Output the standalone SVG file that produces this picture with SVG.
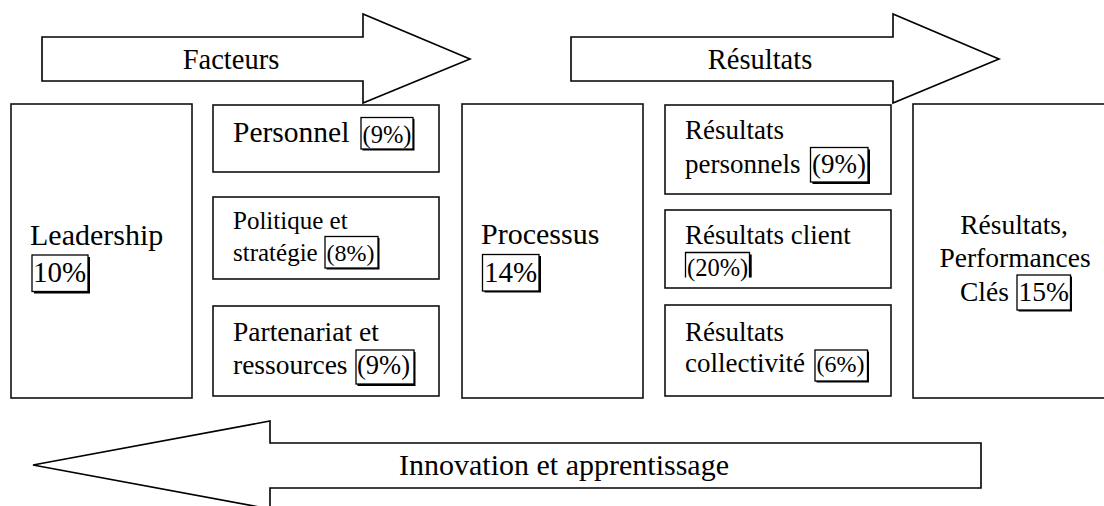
<svg xmlns="http://www.w3.org/2000/svg" width="1104" height="506" viewBox="0 0 1104 506">
<style>
  .box { fill: #fff; stroke: #111; stroke-width: 1.6; }
  .arrow { fill: #fff; stroke: #000; stroke-width: 1.6; stroke-linejoin: miter; }
  text { font-family: 'Liberation Serif', Tinos, 'Times New Roman', Times, 'DejaVu Serif', serif; fill: #000; }
  .pct { fill: #fff; stroke: #000; stroke-width: 1.3; }
  .sh { fill: #000; }
</style>
<rect width="1104" height="506" fill="#fff"/>

<g id="arrows">
  <g id="arrow-facteurs">
    <polygon class="arrow" points="42,37 363,37 363,14 470,59 363,103 363,81 42,81"/>
    <text x="231" y="69" font-size="28.5" text-anchor="middle">Facteurs</text>
  </g>
  <g id="arrow-resultats">
    <polygon class="arrow" points="571,37 893,37 893,14 999,59 893,103 893,81 571,81"/>
    <text x="760" y="69" font-size="28.5" text-anchor="middle">Résultats</text>
  </g>
  <g id="arrow-innovation">
    <polygon class="arrow" points="981,443 270,443 270,421 33,465 270,509 270,488 981,488"/>
    <text x="399" y="475" font-size="30" textLength="330" lengthAdjust="spacingAndGlyphs">Innovation et apprentissage</text>
  </g>
</g>

<g id="connectors"></g>

<g id="leadership">
  <rect class="box" x="11" y="104" width="181" height="294"/>
  <text x="30" y="245" font-size="30">Leadership</text>
  <rect class="sh" x="34" y="257" width="56" height="36.5"/>
  <rect class="pct" x="32" y="255" width="56" height="36.5"/>
  <text x="33" y="282" font-size="29">10%</text>
</g>

<g id="personnel">
  <rect class="box" x="213" y="105" width="226" height="67"/>
  <text x="233" y="142" font-size="29.5">Personnel</text>
  <rect class="sh" x="362.5" y="119" width="52" height="31.5"/>
  <rect class="pct" x="361" y="117.5" width="52" height="31.5"/>
  <text x="362.5" y="142.5" font-size="24.5">(9%)</text>
</g>

<g id="politique">
  <rect class="box" x="213" y="197" width="226" height="82"/>
  <text x="233" y="229" font-size="25">Politique et</text>
  <text x="233" y="261" font-size="25">stratégie</text>
  <rect class="sh" x="326.5" y="238" width="53" height="31.5"/>
  <rect class="pct" x="325" y="236.5" width="53" height="31.5"/>
  <text x="326.5" y="261" font-size="24">(8%)</text>
</g>

<g id="partenariat">
  <rect class="box" x="213" y="306" width="226" height="90"/>
  <text x="233" y="341" font-size="27.5">Partenariat et</text>
  <text x="233" y="374" font-size="27.5">ressources</text>
  <rect class="sh" x="357.5" y="352" width="58" height="34"/>
  <rect class="pct" x="356" y="350" width="58" height="34"/>
  <text x="357" y="374" font-size="26.5">(9%)</text>
</g>

<g id="processus">
  <rect class="box" x="462" y="104" width="181" height="294"/>
  <text x="481" y="244" font-size="30">Processus</text>
  <rect class="sh" x="484.5" y="256" width="56.5" height="36.5"/>
  <rect class="pct" x="482.5" y="254.5" width="56.5" height="36.5"/>
  <text x="484" y="281.5" font-size="29">14%</text>
</g>

<g id="resultats-personnels">
  <rect class="box" x="665" y="105" width="226" height="89"/>
  <text x="685" y="139" font-size="27">Résultats</text>
  <text x="685" y="173" font-size="27">personnels</text>
  <rect class="sh" x="812.5" y="149.5" width="57.5" height="34.5"/>
  <rect class="pct" x="810.5" y="147.5" width="57.5" height="34.5"/>
  <text x="812" y="173" font-size="27">(9%)</text>
</g>

<g id="resultats-client">
  <rect class="box" x="665" y="210" width="226" height="78"/>
  <text x="685" y="244" font-size="27">Résultats client</text>
  <rect class="sh" x="749.5" y="254.5" width="2.2" height="23"/>
  <path d="M685.5,277.5 V252.5 H749.5 V277.5" fill="none" stroke="#000" stroke-width="1.3"/>
  <text x="687" y="276" font-size="24.5">(20%)</text>
</g>

<g id="resultats-collectivite">
  <rect class="box" x="665" y="305" width="226" height="91"/>
  <text x="685" y="341" font-size="27">Résultats</text>
  <text x="685" y="372" font-size="27">collectivité</text>
  <rect class="sh" x="816.5" y="351.5" width="52.5" height="31"/>
  <rect class="pct" x="815" y="350" width="52.5" height="31"/>
  <text x="816.5" y="372" font-size="24">(6%)</text>
</g>

<g id="resultats-performances">
  <rect class="box" x="913" y="104" width="220" height="294"/>
  <text x="1014" y="234" font-size="27.5" text-anchor="middle">Résultats,</text>
  <text x="1015" y="267" font-size="27.5" text-anchor="middle">Performances</text>
  <text x="960" y="301" font-size="27.5">Clés</text>
  <rect class="sh" x="1018.5" y="276.5" width="53.5" height="35"/>
  <rect class="pct" x="1017" y="275" width="53.5" height="35"/>
  <text x="1018.5" y="301" font-size="27.5">15%</text>
</g>
</svg>
